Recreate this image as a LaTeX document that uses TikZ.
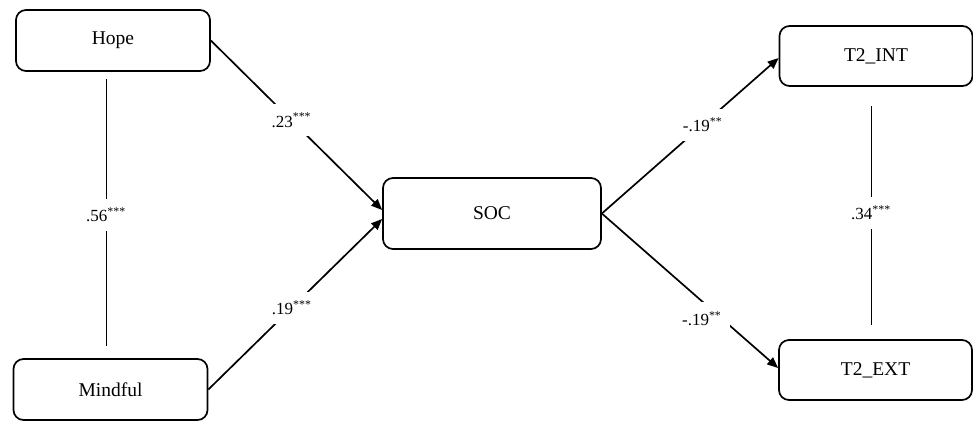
\documentclass[tikz,border=0pt]{standalone}
\usepackage{fontspec}
\setmainfont{Liberation Serif}
\usepackage{tikz}
\usetikzlibrary{arrows.meta,positioning}
\tikzset{
  varbox/.style={draw, line width=1.7pt, rounded corners=10pt, fill=white,
    align=center, minimum width=194pt, minimum height=61pt,
    font=\fontsize{19.5}{23}\selectfont},
  effect/.style={-{Triangle[length=11pt, width=9pt]}, line width=1.7pt},
  corr/.style={line width=0.9pt},
  coef/.style={fill=white, inner sep=9pt, font=\fontsize{17}{20}\selectfont}
}
\newcommand{\sig}[1]{\textsuperscript{#1}}

\begin{document}
\begin{tikzpicture}[x=1pt, y=-1pt]
  \useasboundingbox (0,0) rectangle (973,421);
  % predictors
  \node[varbox] (hope) at (113,40.5) {Hope};
  \node[varbox] (mindful) at (110.5,389.5) {Mindful};
  % mediator
  \node[varbox, minimum width=218pt, minimum height=71pt] (soc) at (492,213.5) {SOC};
  % outcomes
  \node[varbox, minimum width=193pt, minimum height=60pt] (int) at (876,56) {T2\_INT};
  \node[varbox, minimum width=193pt, minimum height=60pt] (ext) at (875.5,370) {T2\_EXT};
  % correlations
  \draw[corr, shorten <=7pt, shorten >=12pt] ([xshift=-7pt]hope.south) --
    node[coef]{.56\sig{***}} ([xshift=-4.5pt]mindful.north);
  \draw[corr, shorten <=19pt, shorten >=14pt] ([xshift=-5pt]int.south) --
    node[coef]{.34\sig{***}} ([xshift=-4.5pt]ext.north);
  % paths
  \draw[effect] (hope.east) -- node[coef, pos=0.47]{.23\sig{***}} ([yshift=3.5pt]soc.west);
  \draw[effect] (mindful.east) -- node[coef, pos=0.48]{.19\sig{***}} ([yshift=-5.5pt]soc.west);
  \draw[effect] (soc.east) -- node[coef, pos=0.57]{-.19\sig{**}} ([yshift=-2pt]int.west);
  \draw[effect] (soc.east) -- node[coef, pos=0.68, xshift=-20pt]{-.19\sig{**}} ([yshift=2pt]ext.west);
\end{tikzpicture}
\end{document}
